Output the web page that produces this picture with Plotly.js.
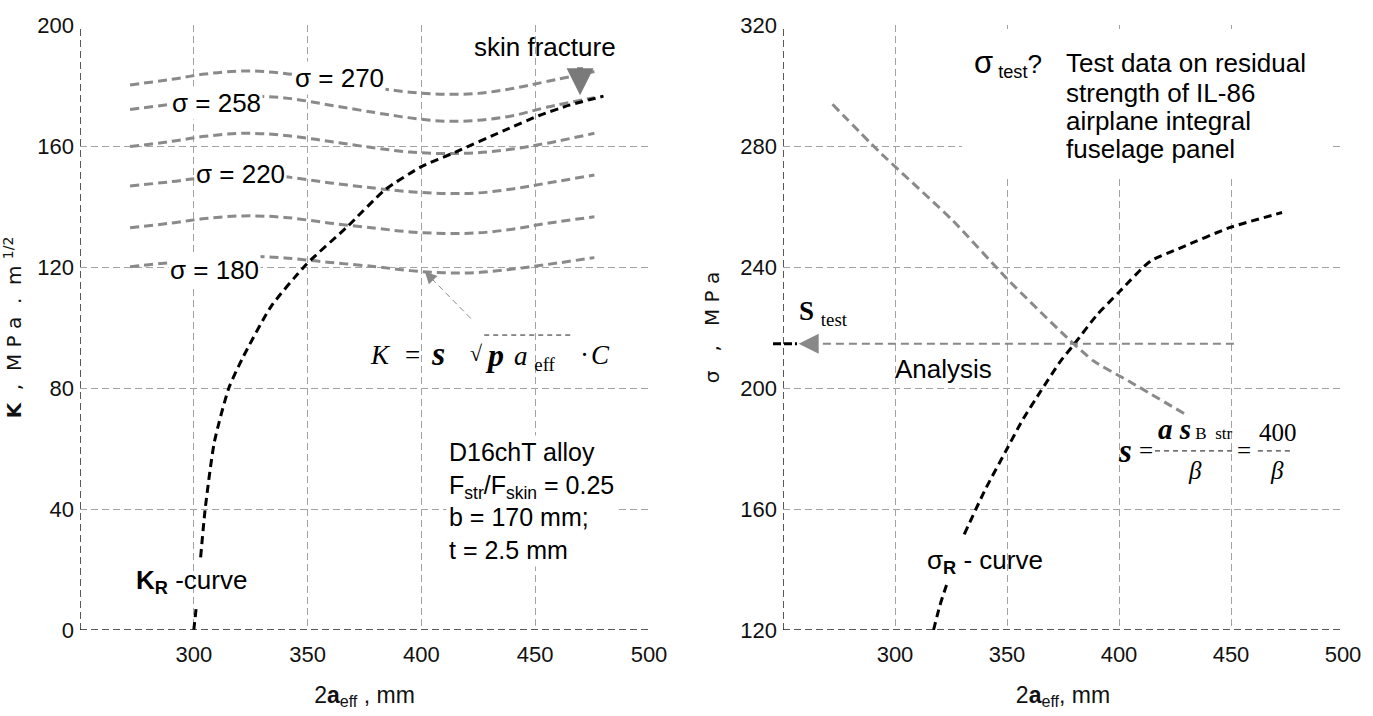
<!DOCTYPE html>
<html><head><meta charset="utf-8">
<script src="https://cdn.plot.ly/plotly-3.0.1.min.js"></script>
<style>html,body{margin:0;padding:0;background:#fff}#chart{width:1373px;height:716px}</style>
</head><body><div id="chart"></div>
<script>
// ---------- data ----------
const xTicks = [300, 350, 400, 450, 500];
const kTicks = [0, 40, 80, 120, 160, 200];
const sTicks = [120, 160, 200, 240, 280, 320];

// K = sigma*sqrt(pi*a)*C curves (left panel)
const kCurveX = [272, 290, 305, 322, 340, 360, 380, 395, 410, 425, 440, 455, 476];
const kSig270 = [180.2, 182.0, 183.8, 184.8, 184.0, 181.5, 179.2, 177.8, 177.1, 177.4, 179.0, 181.3, 184.6];
const kSig258 = [172.1, 173.8, 175.5, 176.4, 175.9, 173.5, 171.0, 169.3, 168.2, 168.5, 170.0, 172.8, 176.0];
const kSig240 = [159.8, 161.5, 163.2, 164.2, 163.5, 161.5, 159.3, 158.0, 157.5, 157.8, 159.0, 160.9, 164.2];
const kSig220 = [146.8, 148.2, 149.6, 150.4, 149.8, 147.8, 146.0, 144.9, 144.3, 144.5, 145.8, 147.7, 150.4];
const kSig200 = [133.0, 134.5, 136.0, 136.9, 136.4, 134.5, 132.8, 131.6, 131.1, 131.3, 132.5, 134.4, 136.6];
const kSig180 = [120.1, 121.5, 122.8, 123.5, 123.0, 121.5, 120.1, 118.8, 118.1, 118.2, 119.3, 120.8, 123.1];

// K_R curve (gap where the label sits)
const krX = [300, 301, null, 303, 305, 309, 315.4, 321.5, 334, 349.6, 367, 384, 399.6, 415, 436, 451.5, 465, 477.5, 480];
const krY = [0, 7, null, 24, 40, 62, 80, 90, 107, 121, 133, 145.5, 153, 158, 165, 170, 173.5, 176, 176.5];

// right panel: sigma = a*sigma_B/beta and sigma_R curve
const anaX = [272.1, 292.7, 326, 349.5, 376.9, 388.7, 404.3, 429.7];
const anaY = [293.8, 278.3, 255.2, 236.5, 216.6, 208.9, 202.3, 191.3];
const srX = [317.2, 320, 323.1, null, 330.9, 340, 349.5, 357, 365.1, 373.9, 379.9, 390, 400.4, 414.1, 427.8, 449.3, 472.8];
const srY = [120, 128, 135.1, null, 151.6, 166, 179.2, 189.5, 199, 208.9, 214.4, 224, 232, 242, 246.4, 253, 258];
const sigmaTest = 214.6;

// ---------- styles ----------
const TICKF = '"Liberation Sans", Arial, sans-serif';
const SANS = '"Liberation Sans", Arial, sans-serif';
const SERIF = '"Liberation Serif", "Times New Roman", serif';
const GRAY = '#8a8a8a';
const GRID = '#a3a3a3';

function gray(x, y) {
  return {x: x, y: y, type: 'scatter', mode: 'lines', hoverinfo: 'skip', showlegend: false,
    line: {color: GRAY, width: 3, dash: '9px,5px', shape: 'spline', smoothing: 1}, xaxis: 'x', yaxis: 'y'};
}

const traces = [
  gray(kCurveX, kSig270), gray(kCurveX, kSig258), gray(kCurveX, kSig240),
  gray(kCurveX, kSig220), gray(kCurveX, kSig200), gray(kCurveX, kSig180),
  {x: krX, y: krY, type: 'scatter', mode: 'lines', showlegend: false, connectgaps: false,
   line: {color: '#000', width: 3, dash: '8px,5px', shape: 'spline', smoothing: 0.6}, xaxis: 'x', yaxis: 'y'},
  {x: anaX, y: anaY, type: 'scatter', mode: 'lines', showlegend: false,
   line: {color: GRAY, width: 3, dash: '9px,5px', shape: 'spline', smoothing: 0.6}, xaxis: 'x2', yaxis: 'y2'},
  {x: srX, y: srY, type: 'scatter', mode: 'lines', showlegend: false, connectgaps: false,
   line: {color: '#000', width: 3, dash: '8px,5px', shape: 'spline', smoothing: 0.6}, xaxis: 'x2', yaxis: 'y2'}
];

function xax(domain, title) {
  return {domain: domain, range: [250, 500], tickvals: xTicks, ticktext: xTicks.map(String),
    showgrid: true, gridcolor: GRID, griddash: '7px,4px', gridwidth: 1, zeroline: false, showline: false,
    ticks: '', ticklabelstandoff: 9, tickfont: {family: TICKF, size: 22, color: '#111'},
    title: {text: title, font: {family: SANS, size: 23, color: '#111'}, standoff: 20}, fixedrange: true};
}
function yax(range, ticks, title, anchor, standoff) {
  return {domain: [0, 1], range: range, tickvals: ticks, anchor: anchor,
    showgrid: true, gridcolor: GRID, griddash: '7px,4px', gridwidth: 1, zeroline: false, showline: false,
    ticks: '', ticklabelstandoff: 5, tickfont: {family: TICKF, size: 22, color: '#111'},
    title: {text: title, font: {family: '"DejaVu Sans", sans-serif', size: 20, color: '#111'}, standoff: standoff}, fixedrange: true};
}

const nb = '\u00A0';
const layout = {
  width: 1373, height: 716,
  margin: {l: 0, r: 0, t: 25, b: 86},
  paper_bgcolor: '#fff', plot_bgcolor: '#fff',
  showlegend: false,
  xaxis: xax([80/1373, 649/1373], '2<b>a</b><sub>eff</sub> , mm'),
  yaxis: yax([0, 200], kTicks, '<b>K</b>' + nb+nb + ',' + nb+nb + 'M' + nb + 'P' + nb + 'a' + nb+nb + '.' + nb+nb + 'm' + nb + '<sup>1/2</sup>', 'x', 12),
  xaxis2: Object.assign(xax([783/1373, 1343/1373], '2<b>a</b><sub>eff</sub>, mm'), {anchor: 'y2'}),
  yaxis2: yax([120, 320], sTicks, 'σ' + nb+nb+nb + ',' + nb+nb+nb + 'M' + nb + 'P' + nb + 'a', 'x2', 15),
  shapes: [
    // white box behind the test-data note (right)
    {type: 'rect', xref: 'x2', yref: 'y2', x0: 329.9, x1: 494.2, y0: 269.4, y1: 318.7, fillcolor: '#fff', line: {width: 0}, layer: 'above'},
    // axis frames (dashed black left and bottom)
    {type: 'line', xref: 'x', yref: 'y domain', x0: 250, x1: 250, y0: 0, y1: 1, line: {color: '#222', width: 1.5, dash: '7px,4px'}, layer: 'above'},
    {type: 'line', xref: 'x domain', yref: 'y', x0: 0, x1: 1, y0: 0, y1: 0, line: {color: '#222', width: 1.5, dash: '7px,4px'}, layer: 'above'},
    {type: 'line', xref: 'x2', yref: 'y2 domain', x0: 250, x1: 250, y0: 0, y1: 1, line: {color: '#222', width: 1.5, dash: '7px,4px'}, layer: 'above'},
    {type: 'line', xref: 'x2 domain', yref: 'y2', x0: 0, x1: 1, y0: 120, y1: 120, line: {color: '#222', width: 1.5, dash: '7px,4px'}, layer: 'above'},
    // leader from formula to curve (left)
    {type: 'line', xref: 'x', yref: 'y', x0: 421.7, y0: 103, x1: 405, y1: 115.8, line: {color: '#888', width: 1, dash: '6px,4px'}},
    // sqrt overline in formula (left)
    {type: 'line', xref: 'x', yref: 'y', x0: 427.6, x1: 466.2, y0: 97.5, y1: 97.5, line: {color: '#222', width: 1, dash: '5px,4px'}, layer: 'above'},
    // analysis level line (right)
    {type: 'line', xref: 'x2', yref: 'y2', x0: 262, x1: 451.3, y0: sigmaTest, y1: sigmaTest, line: {color: '#888', width: 2, dash: '8px,5px'}},
    {type: 'line', xref: 'paper', yref: 'y2', x0: 773/1373, x1: 797/1373, y0: sigmaTest, y1: sigmaTest, line: {color: '#000', width: 3, dash: '8px,3px'}, layer: 'above'},
    // fraction bars (right formula)
    {type: 'line', xref: 'x2', yref: 'y2', x0: 416.1, x1: 450.9, y0: 179.2, y1: 179.2, line: {color: '#111', width: 1, dash: '5px,4px'}, layer: 'above'},
    {type: 'line', xref: 'x2', yref: 'y2', x0: 462, x1: 477.7, y0: 179.2, y1: 179.2, line: {color: '#111', width: 1, dash: '5px,4px'}, layer: 'above'}
  ],
  annotations: []
};

function note(o) {
  return Object.assign({showarrow: false, font: {family: SANS, size: 26, color: '#000'}}, o);
}
const A = layout.annotations;
// left panel labels
A.push(note({xref: 'x', yref: 'y', x: 364, y: 182.5, text: 'σ = 270', bgcolor: '#fff', borderpad: 1}));
A.push(note({xref: 'x', yref: 'y', x: 310, y: 174.2, text: 'σ = 258', bgcolor: '#fff', borderpad: 1}));
A.push(note({xref: 'x', yref: 'y', x: 320.6, y: 150.7, text: 'σ = 220', bgcolor: '#fff', borderpad: 1}));
A.push(note({xref: 'x', yref: 'y', x: 309.2, y: 119, text: 'σ = 180', bgcolor: '#fff', borderpad: 1}));
A.push(note({xref: 'x', yref: 'y', x: 454.4, y: 192.7, text: 'skin fracture'}));
A.push({xref: 'x', yref: 'y', axref: 'x', ayref: 'y', x: 469.7, y: 176.8, ax: 469.7, ay: 186.5, text: '', showarrow: true,
        arrowhead: 2, arrowsize: 0.9, arrowwidth: 6, arrowcolor: '#7a7a7a'});
A.push({xref: 'x', yref: 'y', axref: 'x', ayref: 'y', x: 401.5, y: 118.5, ax: 405.5, ay: 115.4, text: '', showarrow: true,
        arrowhead: 2, arrowsize: 2, arrowwidth: 1.2, arrowcolor: '#888'});
// left formula K = s sqrt(p a_eff) C, piece by piece
const FL = {family: SERIF, size: 27, color: '#000'};
const fy = 90.9;
A.push(note({xref: 'x', yref: 'y', x: 382.0, y: fy, font: FL, text: '<i>K</i>'}));
A.push(note({xref: 'x', yref: 'y', x: 396.1, y: fy, font: FL, text: '='}));
A.push(note({xref: 'x', yref: 'y', x: 407.5, y: fy + 0.5, font: {family: SERIF, size: 34, color: '#000'}, text: '<b><i>s</i></b>'}));
A.push(note({xref: 'x', yref: 'y', x: 424.0, y: fy + 0.5, font: {family: SERIF, size: 22, color: '#000'}, text: '√'}));
A.push(note({xref: 'x', yref: 'y', x: 432.0, y: fy, font: {family: SERIF, size: 32, color: '#000'}, text: '<b><i>p</i></b>'}));
A.push(note({xref: 'x', yref: 'y', x: 450.0, y: fy - 1, font: FL, text: '<i>a</i> <sub>eff</sub>'}));
A.push(note({xref: 'x', yref: 'y', x: 471.5, y: fy, font: FL, text: '·'}));
A.push(note({xref: 'x', yref: 'y', x: 478.5, y: fy, font: FL, text: '<i>C</i>'}));
A.push(note({xref: 'x', yref: 'y', x: 411, y: 42.6, xanchor: 'left', align: 'left', bgcolor: '#fff', borderpad: 2,
  font: {family: SANS, size: 25, color: '#000'},
  text: 'D16chT alloy<br>F<sub>str</sub>/F<sub>skin</sub> = 0.25<br>b = 170 mm;<br>t = 2.5 mm'}));
A.push(note({xref: 'x', yref: 'y', x: 273.7, y: 15.9, xanchor: 'left',
  text: '<b>K<sub>R</sub></b> -curve'}));
// right panel labels
A.push(note({xref: 'x2', yref: 'y2', x: 334.4, y: 307.4, xanchor: 'left',
  text: '<span style="font-size:31px">σ</span><sub> test</sub>?'}));
A.push(note({xref: 'x2', yref: 'y2', x: 375.6, y: 307.4, xanchor: 'left', text: 'Test data on residual'}));
A.push(note({xref: 'x2', yref: 'y2', x: 375.6, y: 297.5, xanchor: 'left', text: 'strength of IL-86'}));
A.push(note({xref: 'x2', yref: 'y2', x: 375.6, y: 288.3, xanchor: 'left', text: 'airplane integral'}));
A.push(note({xref: 'x2', yref: 'y2', x: 375.6, y: 279.0, xanchor: 'left', text: 'fuselage panel'}));
A.push(note({xref: 'x2', yref: 'y2', x: 256.25, y: 224.8, xanchor: 'left', font: {family: SERIF, size: 27, color: '#000'},
  text: '<b>S</b> <sub>test</sub>'}));
A.push({xref: 'x2', yref: 'y2', axref: 'x2', ayref: 'y2', x: 257, y: sigmaTest, ax: 265, ay: sigmaTest, text: '', showarrow: true,
        arrowhead: 2, arrowsize: 2, arrowwidth: 2, arrowcolor: '#888'});
A.push(note({xref: 'x2', yref: 'y2', x: 299.1, y: 206.2, xanchor: 'left', text: 'Analysis'}));
A.push(note({xref: 'x2', yref: 'y2', x: 313.2, y: 142.8, xanchor: 'left', text: 'σ<b><sub>R</sub></b> - curve'}));
// right formula
const FS = {family: SERIF, size: 25, color: '#000'};
A.push(note({xref: 'x2', yref: 'y2', x: 402.7, y: 179.2, font: {family: SERIF, size: 33, color: '#000'}, text: '<b><i>s</i></b>'}));
A.push(note({xref: 'x2', yref: 'y2', x: 412, y: 179.2, font: FS, text: '='}));
A.push(note({xref: 'x2', yref: 'y2', x: 433.9, y: 186.4, font: {family: SERIF, size: 29, color: '#000'},
  text: '<b><i>a s</i></b><span style="font-size:17px"> B  str</span>'}));
A.push(note({xref: 'x2', yref: 'y2', x: 456, y: 179.2, font: FS, text: '='}));
A.push(note({xref: 'x2', yref: 'y2', x: 470.8, y: 185.4, font: FS, text: '400'}));
A.push(note({xref: 'x2', yref: 'y2', x: 433.9, y: 172.6, font: FS, text: '<i>β</i>'}));
A.push(note({xref: 'x2', yref: 'y2', x: 470.5, y: 172.6, font: FS, text: '<i>β</i>'}));

Plotly.newPlot('chart', traces, layout, {staticPlot: true, displayModeBar: false});
</script></body></html>
